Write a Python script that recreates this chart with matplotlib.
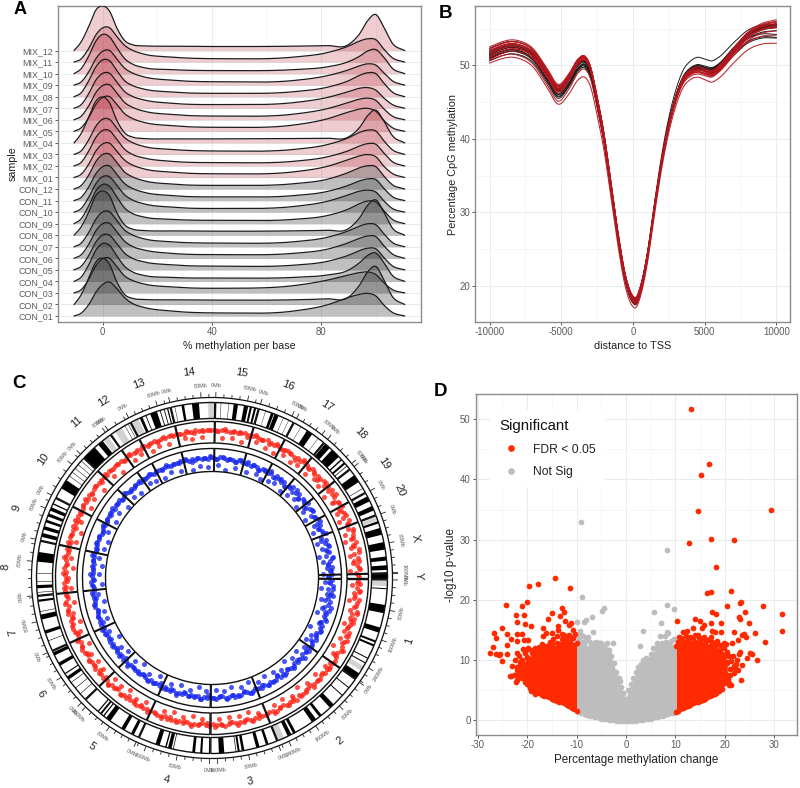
import numpy as np
import matplotlib
matplotlib.use('Agg')
import matplotlib.pyplot as plt
from matplotlib.lines import Line2D

plt.rcParams['font.family'] = ['Liberation Sans', 'DejaVu Sans']
plt.rcParams['axes.unicode_minus'] = False
W, H = 800, 788

# ---------------- Panel A data (ridge heights read at knots) ----------------
ridge_x = [-10.5,-8,-5,-2.5,0,2.5,5,8,11,15,25,45,70,82,90,94,97,100,103,106,110.5]
mix_12 = [0,25,75,122,134,118,70,30,17,14,13,12,13,15,18,50,90,108,68,22,0]
mix_11 = [0,9,43,82,103,103,78,50,35,24,15,10,15,28,48,63,70,67,38,13,0]
mix_10 = [0,14,55,98,118,110,80,45,28,18,12,9,12,20,36,52,68,72,48,16,0]
mix_09 = [0,9,42,80,102,104,80,51,36,25,15,10,14,28,46,58,64,60,36,13,0]
mix_08 = [0,11,50,90,111,108,80,48,33,23,14,10,15,28,48,64,72,69,40,14,0]
mix_07 = [0,10,46,85,105,105,80,50,35,25,15,11,17,32,50,60,62,54,30,11,0]
mix_06 = [0,10,44,82,103,105,82,52,37,26,16,11,17,33,52,62,65,58,32,11,0]
mix_05 = [0,10,43,81,102,104,82,53,38,27,17,12,19,37,58,67,69,60,32,11,0]
mix_04 = [0,27,80,126,138,120,70,30,17,13,12,12,13,14,18,46,82,98,64,22,0]
mix_03 = [0,10,46,85,106,105,80,50,35,24,15,10,15,29,50,66,73,70,40,14,0]
mix_02 = [0,10,47,86,107,106,81,50,34,24,14,10,14,27,46,60,67,65,38,13,0]
mix_01 = [0,9,42,80,101,103,80,52,37,26,16,11,17,33,54,65,69,62,33,12,0]
con_12 = [0,10,44,83,104,105,81,51,36,25,15,11,16,29,50,64,70,67,38,13,0]
con_11 = [0,9,43,81,102,104,80,51,36,25,15,11,15,27,46,59,65,63,36,12,0]
con_10 = [0,10,47,86,107,106,82,52,36,25,15,11,17,32,52,63,66,60,33,11,0]
con_09 = [0,14,56,99,118,112,82,47,30,20,13,10,13,24,44,60,68,65,38,13,0]
con_08 = [0,24,72,120,133,118,70,31,18,14,13,12,13,15,20,52,90,106,68,22,0]
con_07 = [0,10,45,83,105,105,80,50,35,24,15,11,15,28,48,62,69,66,38,13,0]
con_06 = [0,10,44,83,104,105,81,51,35,25,15,11,15,27,47,60,67,65,37,13,0]
con_05 = [0,10,45,84,105,104,80,50,34,24,15,11,14,25,44,58,65,63,36,12,0]
con_04 = [0,12,52,94,114,108,78,45,28,18,12,10,12,19,34,56,78,85,55,18,0]
con_03 = [0,9,43,82,103,104,80,51,37,27,18,14,22,38,54,61,63,55,30,10,0]
con_02 = [0,28,82,128,139,120,70,30,18,15,14,13,14,17,22,58,98,114,72,24,0]
con_01 = [0,8,36,72,95,102,84,55,37,26,15,9,15,33,56,65,68,60,32,11,0]
sample_rows = [con_01,con_02,con_03,con_04,con_05,con_06,con_07,con_08,con_09,con_10,con_11,con_12,
               mix_01,mix_02,mix_03,mix_04,mix_05,mix_06,mix_07,mix_08,mix_09,mix_10,mix_11,mix_12]
sample_names = ['CON_%02d' % i for i in range(1, 13)] + ['MIX_%02d' % i for i in range(1, 13)]

# ---------------- Panel B data ----------------
tss_x = [-10000,-9000,-8500,-8000,-7000,-6000,-5200,-4500,-3800,-3400,-3000,-2500,-2000,-1500,-1000,-500,0,200,500,
         1000,1500,2000,2500,3000,3500,4000,4500,5000,5500,6000,7000,8000,9000,10000]
tss_mean = [51.4,52.2,52.4,52.3,51.3,48.6,46.4,47.8,50,50.4,49.2,45,39.8,33,26.2,20.8,18.2,18,19.4,
            24,30.7,37,42,45.7,48.2,49.3,49.7,49.5,49.3,49.9,52,53.9,54.8,55]
dev_x = [-10000,-5200,-3400,200,4500,5500,10000]
black_dev = [[.9,.8,.6,-.1,.3,.2,.6],[.5,.4,.2,.2,1.4,1.3,.5],[-.3,-.3,-.3,.3,-.2,-.3,-.3],
             [-.8,-.9,-.7,-.3,0,0,-1.2],[.2,.3,.1,-.5,.1,.2,.4],[0,.1,.2,.2,-.1,0,.6],
             [-.5,-.4,-.2,-.6,-.1,-.4,-1.3],[.6,.4,.3,.1,.2,.1,.2],[-.1,-.6,-.4,-.4,-.3,-.2,.1],
             [.3,.2,0,.3,.1,.3,.5],[-.4,-.7,-.5,-.1,.4,.4,-.8],[.1,0,.1,-.2,.2,.1,.3]]
red_dev = [[1.1,1,.9,.3,.1,-.2,1.2],[-1.1,-1.7,-2,-1,-1.3,-1.6,-2],[.8,.8,.9,.2,-.3,-.5,.9],
           [-.7,-1.3,-.9,-.2,-.6,-.6,-.9],[.4,.6,.8,.4,-.2,-.4,.7],[.1,.2,.7,0,-.5,-.7,.4],
           [.6,.5,.6,-.3,-.3,-.3,.9],[-.3,.1,.4,.2,-.7,-.8,.2],[.9,.7,.9,.1,-.4,-.1,1],
           [-.2,0,.5,-.5,.1,0,.6],[.3,.4,.8,.3,-.6,-.5,.3],[-.6,-.2,.3,-.1,-.9,-.9,-.3]]

# ---------------- Panel C data ----------------
chrom_names = ['1','2','3','4','5','6','7','8','9','10','11','12','13','14','15','16','17','18','19','20','X','Y']
chrom_start = [90.6,125.3,158.3,180.8,204.8,226.3,245.6,264.3,282.4,297.3,313.3,324.9,332.5,346.5,1.2,15.6,27.9,39.8,51.9,61.1,69.2,88.6]
chrom_end   = [125.0,158.0,180.4,204.5,226.0,245.3,264.0,282.1,297.0,313.0,324.6,332.2,346.2,360.9,15.3,27.6,39.5,51.6,60.8,68.9,88.3,90.2]
chrom_mb = [282,266,177,184,173,147,142,129,113,107,86,46,111,115,111,90,97,87,59,55,160,3]
# cytobands: chromosome -> (start fraction, end fraction)
black_bands = {
 '1':[(.08,.09),(.24,.32),(.46,.51),(.59,.61),(.63,.65),(.77,.78),(.82,.83),(.94,1)],
 '2':[(.1,.11),(.2,.21),(.33,.38),(.49,.52),(.56,.61),(.8,.83),(.85,.89)],
 '3':[(.13,.17),(.27,.32),(.5,.54),(.57,.6),(.62,.63),(.8,.88)],
 '4':[(.1,.13),(.2,.24),(.5,.51),(.53,.58),(.6,.62),(.7,.76)],
 '5':[(.08,.13),(.24,.3),(.5,.58),(.62,.64),(.67,.7),(.73,.75)],
 '6':[(.12,.13),(.25,.26),(.37,.38),(.44,.5),(.55,.57),(.72,.78),(.92,.98)],
 '7':[(.18,.19),(.32,.38),(.58,.67),(.72,.73),(.9,.94)],
 '8':[(.05,.06),(.13,.19),(.25,.26),(.4,.41),(.62,.8)],
 '9':[(.08,.17),(.25,.33),(.42,.48),(.56,.63),(.7,.78),(.85,.88)],
 '10':[(.22,.42),(.52,.53),(.62,.63),(.72,.73),(.82,.83),(.92,.93)],
 '11':[(0,.42),(.55,.72)],
 '12':[(.72,.74),(.88,.9)],
 '13':[(.23,.3),(.38,.4),(.5,.67),(.74,.76),(.84,.86),(.92,.95)],
 '14':[(.08,.09),(.24,.3),(.48,.64)],
 '15':[(.12,.13),(.3,.31),(.42,.52),(.66,.76),(.8,.85),(.9,.95)],
 '16':[(.18,.19),(.34,.42),(.44,.56),(.7,.71),(.86,.87)],
 '17':[(.22,.23),(.42,.6),(.8,.81)],
 '18':[(.03,.2),(.28,.55),(.64,.68),(.76,.82),(.88,.9)],
 '19':[(.25,.55),(.82,.84)],
 '20':[(.15,.38),(.6,.8)],
 'X':[(.1,.14),(.22,.34),(.47,.6),(.72,.79),(.87,.95)],
 'Y':[(0,1)],
}
gray_bands = {'1':[(0,.06),(.86,.91)],'2':[(.93,1)],'11':[(.75,.92)],'12':[(.22,.55)],'13':[(0,.2)],'14':[(.85,.98)],'X':[(.02,.09)]}

# track values run 0-100 from the inner to the outer edge; one per 1.5 degrees from 91 degrees clockwise
red_band = [52,60,46,58,40,63,55,48,66,44,57,62,50,41,59,54,65,47,56,60,
            52,58,63,49,57,55,60,50,61,54,58,47,52,60,56,49,62,57,53,59,
            50,56,62,54,48,59,55,61,52,57,50,60,54,58,49,56,62,53,57,51,
            59,55,48,61,54,57,50,60,56,52,58,62,49,55,60,53,57,51,59,54,
            62,50,56,58,53,60,49,57,55,61,52,58,54,48,60,56,53,59,50,57,
            61,54,52,58,47,55,60,53,57,50,62,56,52,59,48,55,58,53,60,51,
            57,54,61,49,56,59,52,58,55,50,60,53,57,62,54,50,58,56,52,60,
            54,57,61,55,58,60,56,62,59,55,61,57,63,58,60,56,62,59,57,61,
            58,62,56,60,64,58,61,57,63,59,62,60,56,61,58,63,60,57,62,59,
            61,57,63,60,58,62,56,60,63,59,57,61,58,55,62,59,56,60,53,58,
            62,56,50,59,54,61,57,52,63,49,58,55,60,46,57,64,51,55,42,60,
            66,48,57,40,62,53,45,65,58,44,60,50,67,43,56,61,47,63,41,55]
blue_band = [60,52,66,45,58,70,48,62,55,42,65,58,50,68,46,60,54,64,50,57,
             62,55,60,52,64,57,50,62,56,59,53,65,58,52,60,56,63,50,58,61,
             55,60,53,62,57,50,59,64,55,52,60,57,63,54,58,61,50,56,62,59,
             53,60,57,64,52,58,55,62,50,59,56,61,54,60,57,52,63,58,55,60,
             53,62,57,50,59,55,61,56,52,60,58,63,54,57,61,50,59,55,62,56,
             53,60,57,51,63,58,54,60,56,50,62,57,53,59,61,55,52,58,63,56,
             60,54,57,62,52,59,56,61,53,58,55,63,57,60,52,56,62,58,54,60,
             57,63,59,55,61,58,62,56,60,64,58,61,57,62,59,56,63,60,58,61,
             55,62,59,57,63,60,56,61,58,64,59,62,57,60,55,63,58,61,56,62,
             59,57,63,60,55,61,58,52,62,56,59,64,53,60,57,50,62,58,54,61,
             48,63,56,52,60,45,58,66,50,55,62,44,59,53,68,47,57,62,42,56,
             65,50,60,46,55,68,42,58,52,64,48,60,40,66,54,45,62,50,58,44]
# second row of dots, one per 3 degrees from 92 degrees clockwise
red_band_b = [47,62,40,55,66,50,44,60,53,68,46,58,63,48,56,66,51,60,45,63,
              50,66,55,46,62,52,67,48,58,64,47,55,65,50,60,46,63,54,67,49,
              58,44,62,52,66,47,60,55,64,48,56,67,50,62,45,58,65,52,60,47,
              64,55,68,50,62,57,46,66,52,60,68,55,64,50,67,58,62,53,66,56,
              68,60,54,66,62,58,67,52,64,60,55,68,58,62,50,66,56,47,63,54,
              60,44,66,50,58,40,62,47,68,54,42,60,48,66,52,45,64,38,58,50]
blue_band_b = [45,64,55,38,68,50,60,42,66,52,46,62,56,70,48,60,52,66,46,58,
               64,50,58,66,47,62,54,68,50,58,46,64,55,60,48,67,52,62,45,58,
               66,50,60,54,68,47,62,56,64,50,58,67,46,60,54,65,50,62,57,48,
               66,55,60,68,52,64,58,50,66,60,54,67,62,56,68,52,60,64,57,66,
               60,54,68,62,56,66,50,62,58,68,54,64,60,50,66,56,62,47,58,68,
               50,62,44,57,66,48,60,40,64,52,68,44,58,36,62,50,70,46,55,40]
red_outlier_angle = [93,96,99,103,106,109,112,115,119,122,128,133,138,142,146,150,154,161,165,169,173,177,
                     184,188,192,196,200,208,212,216,220,224,230,234,238,242,248,252,256,260,266,270,274,278,
                     285,289,293,300,304,309,316,320,327,330,335,338,342,349,352,356,4,8,12,18,22,26,30,34,37,
                     42,46,49,54,58,63,66,72,75,78,81,84,87]
red_outlier_value = [22,38,15,30,42,20,35,28,18,33,40,24,30,16,36,22,28,34,18,26,22,30,
                     28,18,32,20,30,24,36,18,30,22,34,26,38,20,32,18,36,24,28,40,22,34,
                     26,18,36,24,32,20,30,18,28,36,22,32,26,34,24,30,26,32,20,36,24,18,34,22,28,
                     20,32,24,16,30,26,18,24,14,34,20,30,16]
blue_outlier_angle = [92,95,98,101,105,108,112,116,120,123,127,131,135,139,143,147,152,156,161,165,170,174,178,
                      183,187,191,196,201,208,213,218,223,229,233,238,243,249,253,258,262,267,272,276,280,
                      285,289,294,300,305,310,316,320,327,330,335,339,344,350,354,358,3,7,12,18,23,26,30,33,38,
                      42,46,50,54,58,63,66,72,75,79,82,85,88]
blue_outlier_value = [30,12,40,20,34,16,42,10,36,24,38,18,30,14,36,22,18,30,14,26,20,32,24,
                      28,16,32,22,30,18,36,14,28,20,34,16,40,24,30,18,36,14,28,20,38,
                      24,16,34,20,30,16,28,20,32,24,16,30,22,14,28,20,30,12,26,20,30,14,24,32,18,
                      22,34,16,28,12,36,20,16,30,12,24,38,18]

# ---------------- Panel D data ----------------
sig_x = [13.2,16.9,15.2,29.4,14.6,17.3,21.9,12.8,18.2,21.2,17.2,16.5,31.5,31.6,28.1,26.5,27.7,23.3,23.1,20.4,17.4,24.1,18.3,14,15,22.8,23.1,24.8,17.2,19.3,10.3,15.8,15.3,12.3,11.6,13.5,17.5,18.1,19.2,21.9,26.1,23.8,23.5,24.3,22.7,21.4,19.8,18,15.7,17.3,14.6,25.1,24.4,25.6,23,22.9,21.6,23.3,20.8,21.2,22.4,23.4,22.7,21.9,
         -14.4,-17.7,-19.7,-11.3,-20,-24.2,-21.1,-13,-12.5,-14.9,-22.3,-20.6,-13.4,-15.7,-22,-12.3,-11.2,-11.5,-20.4,-19.2,-13.8,-25,-16.7,-10.7,-13.7,-26.6,-16.2,-24,-22,-21,-14.9,-16.7,-26.3,-23.3,-20.6,-19.8,-22,-24,-26.9,-19.9,-20.9,-27.5,-26.3,-25.7,-25.4,-24,-22,-21.6,-25,-21.5,-23.3,-21.8,-22.3,-22,-19.4,-20.4,-19.4,-21.1,-20.1,
         20.5,21,21.3,20.8,21.8,22.3,22,21,20.6,20.9,19.8,20.2,19.4,18.9,18.3,19.8,20.5,20.2,19,18.5,17.4,16.6,15.8,14.8,14,13,12.2,11.2,10.8,11.6,
         -20.4,-20,-21,-21.5,-22,-22.6,-21,-20.5,-20.2,-19.7,-19.8,-19,-18.5,-18.2,-17.6,-17,-16,-15.4,-14.7,-14,-13,-12.2,-11.5,-10.8,-23.4,-21.5,-23,-22.5,-19.2,-18.5,-10.3,-12.6]
sig_y = [51.7,42.5,40.8,34.9,34.8,30.1,30,29.5,25.4,21.4,21.3,21.1,17.7,14.9,13,10,19,19.6,19.4,19,18,18,17.7,16.9,16.5,17.1,16.9,16.1,16.1,16.1,16.5,15.8,15.3,14.9,14.6,15.3,14.9,14.6,14.6,14.6,14.5,14.3,14.2,13.8,13.3,12.8,12.9,12.7,13.6,13.8,14.2,11.1,10.3,11,11.4,11,10.7,6.7,5.8,5.8,10,9.1,8.4,7.8,
         23.7,22.6,22.3,21.9,19.7,19.1,19,18.7,18,17.9,17.5,17.5,17.3,16.8,16.4,16.5,16.1,15.8,16,15.6,15.6,15.4,15.3,15,15,14.5,14.5,14.3,14.3,14.3,14.5,14,13.6,13.5,13.3,13.3,13.1,12.5,12.2,12,11.8,11.2,11,10.9,11,11,11.1,10.6,9.9,9.7,7.4,7.7,6.4,6.7,5.3,9.2,8.4,7.8,7,
         9.5,8.5,9.8,10.6,9,9.4,8.6,7.5,6.8,6.2,6.2,7.2,5.2,4.9,4.5,12,11.3,12.6,12.5,13.2,13,13.4,13.8,13.6,14.1,13.8,14,13.6,13.9,12.9,
         11.2,10.3,10,9.2,8.8,7.6,8.4,7.4,6.4,5.8,11.8,11.6,12,11.4,12.1,12.6,12.3,13,13.5,14,14.4,13.7,14.2,13.6,7.4,8.6,9,10,4.9,4.4,14.3,14.2]
ns_x = [-9,8.4,-8.8,-4.5,-4.9,-6.8,-9.9,-8,-8.4,-6.7,-9.3,-9,-9.7,-8.6,-7.6,-8,5.7,8.4,9.8,7,3.4,8.4,8.6,6.9,7.9,9.8,2.8,-6.3,-5.3,-3.9,-2.7,-9.5,-8.7,-7.3,-6,-5,-3.4,5.4,6.2,7.2,8.2,9.2,-1.3,-2.2]
ns_y = [33,28.3,20.5,18.6,18.2,17.1,16.4,16.7,16.3,14.6,14.9,14.2,14,14,13.8,13.3,18,19.2,18.5,16.1,14.8,14.7,14.5,14,14,13.5,12.3,12.8,12.8,12.9,12.8,13.4,13,13,13,12.9,11.7,12,12.8,12.8,13,13.1,6.5,7.3]
# outline of the solid clouds of points
red_left_x = [-10,-10.5,-11,-11.5,-12,-12.5,-13,-13.5,-14,-14.5,-15,-15.5,-16,-16.5,-17,-17.5,-18,-18.5,-19,-19.5,-20,-20.5,-21,-21.5,-22]
red_left_up = [12.8,12.5,13.6,13,13.8,13,13.5,12.6,12.8,12,12.6,11.8,12.4,11.6,12.2,11.5,11.9,11,11.2,10.2,10.5,9.4,9.6,8.6,8.4]
red_left_lo = [1.6,1.8,2,2.3,2.6,2.8,3,3.1,3.2,3.4,3.6,3.8,4,4.1,4.2,4.5,4.8,5,5.3,5.6,6,6.4,7,7.2,7.6]
red_right_x = [10.2,10.5,11,11.5,12,12.5,13,13.5,14,14.5,15,15.5,16,16.5,17,17.5,18,18.5,19,19.5,20,20.5]
red_right_up = [12.3,13,12.6,13.2,12.8,13.5,12.9,13.6,13,12.7,13.2,12.5,12.9,12.2,12.4,11.8,12.2,11.5,11.6,11,10.6,9.6]
red_right_lo = [1.3,1.5,1.8,2,2.2,2.4,2.5,2.8,3,3.1,3.2,3.4,3.6,3.8,4,4.2,4.3,4.8,5.5,6,6.5,7.5]
gray_x = [-10,-9.5,-9,-8.5,-8,-7.5,-7,-6.5,-6,-5.5,-5,-4.5,-4,-3.5,-3,-2.5,-2,-1.5,-1,-0.5,0,0.5,1,1.5,2,2.5,3,3.5,4,4.5,5,5.5,6,6.5,7,7.5,8,8.5,9,9.5,10.2]
gray_up = [12.5,12.9,12.2,12.6,12,11.5,12.4,12.8,12.2,12.8,12.5,12.4,11.8,11,10.6,9.5,8,7,5.5,4.5,3.6,5,6,7,8,8.8,9.4,10,10.4,10.2,11,11,12,12.3,12.6,12.2,12.8,12.4,12.5,12,12.2]
gray_lo = [1.4,1.2,1,.9,.7,.6,.5,.4,.3,.2,.1,.05,0,-.1,-.15,-.2,-.25,-.28,-.3,-.32,-.33,-.32,-.3,-.28,-.25,-.2,-.15,-.1,0,.05,.1,.2,.3,.4,.5,.6,.7,.9,1,1.1,1.2]


def smooth(kx, ky, n=500):
    kx = np.asarray(kx, float)
    ky = np.asarray(ky, float)
    m = np.gradient(ky, kx)
    g = np.linspace(kx[0], kx[-1], n)
    i = np.clip(np.searchsorted(kx, g, side='right') - 1, 0, len(kx) - 2)
    h = kx[i + 1] - kx[i]
    t = (g - kx[i]) / h
    return g, ((2*t**3 - 3*t**2 + 1)*ky[i] + (t**3 - 2*t**2 + t)*h*m[i]
               + (-2*t**3 + 3*t**2)*ky[i+1] + (t**3 - t**2)*h*m[i+1])


def box(l, t, r, b):
    return [l / W, 1 - b / H, (r - l) / W, (b - t) / H]


def style(ax, xmaj, xmin, ymaj, ymin, lab=6.9):
    for s in ax.spines.values():
        s.set_color('#8C8C8C')
        s.set_linewidth(1.0)
    ax.set_axisbelow(True)
    ax.set_xticks(xmaj)
    ax.set_xticks(xmin, minor=True)
    ax.set_yticks(ymaj)
    ax.set_yticks(ymin, minor=True)
    ax.grid(True, which='major', color='#E9EDED', lw=0.8)
    ax.grid(True, which='minor', color='#F1F4F4', lw=0.5)
    ax.tick_params(which='major', length=2.2, width=0.7, color='#555555', labelcolor='#5a5a5a', labelsize=lab, pad=1.5)
    ax.tick_params(which='minor', length=0)


fig = plt.figure(figsize=(W / 100, H / 100), dpi=100, facecolor='white')

# ---- A ----
axA = fig.add_axes(box(58, 5.5, 421, 322))
style(axA, [0, 40, 80], [20, 60, 100], list(range(24)), [])
axA.set_xlim(-16.4, 116.5)
axA.set_ylim(-0.52, 26.9)
axA.set_yticklabels(sample_names, fontsize=6.4)
ridge_unit = 34.7
for i, row in enumerate(sample_rows):
    xs, ys = smooth(ridge_x, row)
    ys = np.clip(ys, 0, None) / ridge_unit
    z = 30 - i
    if i >= 12:
        axA.fill_between(xs, i, i + ys, color='#B2182B', alpha=0.22, lw=0, zorder=z)
    else:
        axA.fill_between(xs, i, i + ys, color='#303030', alpha=0.3, lw=0, zorder=z)
    axA.plot(xs, i + ys, color='#1c1c1c', lw=0.9, zorder=z + 0.1)
axA.set_xlabel('% methylation per base', fontsize=7.7, color='#222222', labelpad=2.5)
axA.set_ylabel('sample', fontsize=7.7, color='#222222', labelpad=0)

# ---- B ----
axB = fig.add_axes(box(475.3, 6, 790.3, 322.3))
style(axB, [-10000, -5000, 0, 5000, 10000], [-7500, -2500, 2500, 7500], [20, 30, 40, 50], [25, 35, 45, 55])
axB.set_xlim(-11000, 10980)
axB.set_ylim(15.02, 58.07)
xs, base = smooth(tss_x, tss_mean, 800)
for row in black_dev:
    axB.plot(xs, base + np.interp(xs, dev_x, row), color='#1a1a1a', lw=0.7)
for row in red_dev:
    axB.plot(xs, base + np.interp(xs, dev_x, row), color='#B5161E', lw=0.75, alpha=0.95)
axB.set_xlabel('distance to TSS', fontsize=7.8, color='#222222', labelpad=2.5)
axB.set_ylabel('Percentage CpG methylation', fontsize=7.8, color='#222222', labelpad=1)

# ---- D ----
axD = fig.add_axes(box(475.7, 394, 796.7, 735.3))
style(axD, [-30, -20, -10, 0, 10, 20, 30], [-25, -15, -5, 5, 15, 25], [0, 10, 20, 30, 40, 50], [5, 15, 25, 35, 45])
axD.set_xlim(-30.4, 34.55)
axD.set_ylim(-2.5, 54.2)
RED, GRAY = '#FF2A00', '#BDBDBD'
dot = 17
axD.fill_between(gray_x, gray_lo, gray_up, color=GRAY, lw=0, zorder=2)
axD.scatter(gray_x, gray_up, s=dot, color=GRAY, lw=0, zorder=2)
axD.scatter(gray_x, gray_lo, s=dot * 0.4, color=GRAY, lw=0, zorder=2)
axD.scatter(ns_x, ns_y, s=dot, color=GRAY, lw=0, zorder=2)
for px, up, lo in [(red_left_x, red_left_up, red_left_lo), (red_right_x, red_right_up, red_right_lo)]:
    axD.fill_between(px, lo, up, color=RED, lw=0, zorder=3)
    axD.scatter(px, up, s=dot, color=RED, lw=0, zorder=3)
    axD.scatter(px, lo, s=dot, color=RED, lw=0, zorder=3)
axD.scatter(sig_x, sig_y, s=dot, color=RED, lw=0, zorder=3)
axD.set_xlabel('Percentage methylation change', fontsize=8.4, color='#222222', labelpad=2.5)
axD.set_ylabel('-log10 p-value', fontsize=8.4, color='#222222', labelpad=2)
hs = [Line2D([], [], ls='', marker='o', ms=4.8, mfc=RED, mec='none'),
      Line2D([], [], ls='', marker='o', ms=4.8, mfc=GRAY, mec='none')]
leg = axD.legend(hs, ['FDR < 0.05', 'Not Sig'], title='Significant', loc='upper left',
                 bbox_to_anchor=(0.045, 0.952), borderaxespad=0, frameon=True, facecolor='white',
                 edgecolor='none', framealpha=1, fontsize=8.7, title_fontsize=10.8,
                 labelspacing=0.85, handletextpad=0.8, handlelength=2, borderpad=0.75, alignment='left')
leg.get_title().set_color('#111111')
leg.set_zorder(5)
for t in leg.get_texts():
    t.set_color('#222222')

# ---- C ----
cx, cy, rmax = 212.0, 578.0, 212.0
axC = fig.add_axes(box(cx - rmax, cy - rmax, cx + rmax, cy + rmax), projection='polar')
axC.set_theta_zero_location('N')
axC.set_theta_direction(-1)
axC.set_rlim(0, rmax)
axC.axis('off')
axC.patch.set_alpha(0)
rings = {'ideo': (159.5, 175.5), 'red': (135, 156.5), 'blue': (106.5, 129.5)}
rad = np.deg2rad


def sector_bar(a, b, ring, **kw):
    lo, hi = ring
    axC.bar(rad((a + b) / 2), hi - lo, width=rad(b - a), bottom=lo, align='center', **kw)


def facing(theta):
    t = theta % 360
    return 180 - t if 100 < t < 250 else -t


for nm, a, b, mb in zip(chrom_names, chrom_start, chrom_end, chrom_mb):
    for (s, e) in gray_bands.get(nm, []):
        sector_bar(a + s * (b - a), a + e * (b - a), rings['ideo'], color='#D2D2D2', lw=0, zorder=2)
    for (s, e) in black_bands.get(nm, []):
        sector_bar(a + s * (b - a), a + e * (b - a), rings['ideo'], color='black', lw=0, zorder=2)
    for ring in rings.values():
        sector_bar(a, b, ring, facecolor='none', edgecolor='#111111', lw=1.0, zorder=6)
    arc = np.linspace(a, b, 40)
    axC.plot(rad(arc), np.full(40, 180.5), color='#111111', lw=0.9, zorder=6)
    mbs = np.arange(0, mb + 1, 20)
    ang = a + mbs / mb * (b - a)
    major = mbs % 80 == 0
    axC.vlines(rad(ang[major]), 180.5, 186, color='#222222', lw=0.6, zorder=6)
    axC.vlines(rad(ang[~major]), 180.5, 184, color='#222222', lw=0.6, zorder=6)
    if nm != 'Y':
        for m, t in zip(mbs[major], ang[major]):
            if nm in ('12', '19', '20') and m > 0:
                continue
            axC.text(rad(t), 192.5, '%dMb' % m, fontsize=3.9, color='#555555', rotation=facing(t),
                     rotation_mode='anchor', ha='center', va='center', zorder=7)
    mid = (a + b) / 2
    axC.text(rad(mid), 207, nm, fontsize=8, color='#222222', rotation=facing(mid),
             rotation_mode='anchor', ha='center', va='center', zorder=7)

band_angle = 91 + 1.5 * np.arange(len(red_band))
band_b_angle = 92 + 3.0 * np.arange(len(red_band_b))


def track(vals, ring):
    return ring[0] + np.asarray(vals, float) / 100 * (ring[1] - ring[0])


CRED, CBLUE = '#FF2418', '#1A2BEE'
dot_c = 13
for ang_s, vals, col, ring in [(band_angle, red_band, CRED, rings['red']),
                               (band_b_angle, red_band_b, CRED, rings['red']),
                               (red_outlier_angle, red_outlier_value, CRED, rings['red']),
                               (band_angle, blue_band, CBLUE, rings['blue']),
                               (band_b_angle, blue_band_b, CBLUE, rings['blue']),
                               (blue_outlier_angle, blue_outlier_value, CBLUE, rings['blue'])]:
    axC.scatter(rad(ang_s), track(vals, ring), s=dot_c, color=col, alpha=0.8, lw=0, zorder=4)

# ---- panel letters ----
for s, x, y, size in [('A', 20, 9.5, 13), ('B', 446, 14, 13.5), ('C', 19, 384, 13.5), ('D', 440, 391, 13.5)]:
    fig.text(x / W, 1 - y / H, s, fontsize=size, fontweight='bold', color='black', ha='center', va='center')

fig.savefig('out.png', dpi=100)
